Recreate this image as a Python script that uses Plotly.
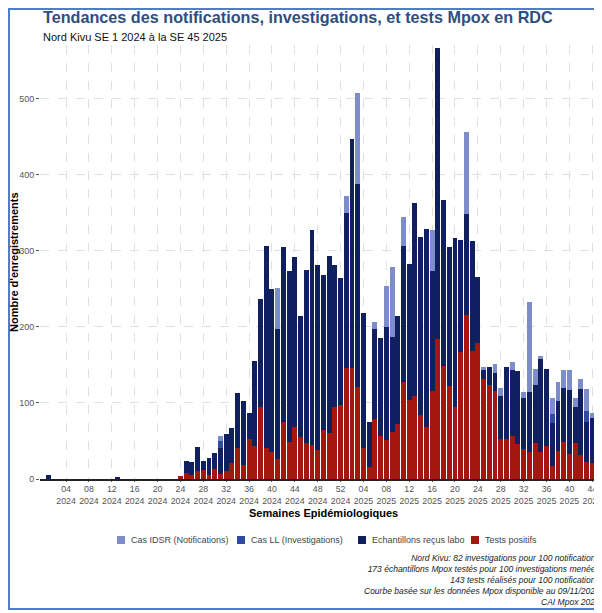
import plotly.graph_objects as go

# Semaines epidemiologiques : SE 1 2024 -> SE 45 2025 (97 semaines)
annees = [2024] * 52 + [2025] * 45
semaines = list(range(1, 53)) + list(range(1, 46))

cas_idsr = [
    2, 0, 0, 0, 0, 0, 0, 0, 0, 0, 0, 0, 1, 0, 0, 0, 0, 0, 0, 0, 0, 0, 0, 3, 18, 17,
    30, 18, 20, 25, 57, 44, 50, 85, 78, 66, 118, 180, 230, 190, 251, 235, 210, 220,
    165, 208, 250, 215, 205, 222, 215, 200,
    372, 340, 508, 165, 58, 206, 142, 254, 279, 165, 345, 215, 288, 240, 250, 328,
    430, 286, 232, 240, 238, 456, 238, 202, 147, 112, 151, 120, 112, 154, 108, 114,
    233, 145, 162, 110, 106, 127, 143, 144, 106, 131, 118, 87, 106,
]
cas_ll = [
    1, 0, 0, 0, 0, 0, 0, 0, 0, 0, 0, 0, 1, 0, 0, 0, 0, 0, 0, 0, 0, 0, 0, 2, 14, 13,
    25, 15, 16, 20, 50, 36, 40, 70, 66, 52, 95, 150, 190, 158, 180, 195, 175, 182,
    138, 172, 205, 178, 168, 185, 178, 168,
    300, 280, 370, 140, 48, 170, 118, 195, 180, 138, 280, 180, 240, 200, 208, 260,
    350, 230, 192, 200, 197, 330, 198, 168, 120, 95, 125, 95, 95, 125, 90, 92,
    100, 110, 135, 92, 85, 95, 110, 105, 85, 105, 90, 72, 80,
]
echantillons = [
    5, 0, 0, 0, 0, 0, 0, 0, 0, 0, 0, 0, 2, 0, 0, 0, 0, 0, 0, 0, 0, 0, 0, 4, 24, 23,
    42, 24, 28, 34, 41, 59, 67, 113, 103, 87, 155, 237, 306, 250, 197, 305, 274, 292,
    214, 275, 327, 282, 268, 293, 282, 264,
    350, 447, 388, 219, 75, 198, 186, 200, 187, 214, 306, 283, 363, 318, 329, 274,
    567, 367, 305, 317, 314, 349, 313, 266, 143, 147, 140, 109, 147, 144, 142, 106,
    115, 124, 158, 145, 74, 103, 120, 117, 95, 119, 75, 80, 68,
]
tests_positifs = [
    0, 0, 0, 0, 0, 0, 0, 0, 0, 0, 0, 0, 0, 0, 0, 0, 0, 0, 0, 0, 0, 0, 0, 4, 8, 5,
    10, 12, 5, 13, 6, 11, 21, 41, 18, 52, 43, 95, 41, 35, 26, 75, 49, 69,
    55, 48, 45, 38, 64, 60, 95, 97,
    146, 146, 121, 41, 16, 79, 56, 51, 62, 72, 127, 104, 109, 84, 69, 116,
    184, 149, 122, 95, 167, 216, 169, 179, 131, 124, 116, 53, 52, 57, 46, 39,
    36, 47, 35, 43, 17, 37, 49, 33, 48, 31, 22, 21, 19,
]

idx = list(range(len(semaines)))
tick_idx = [i for i in idx if semaines[i] % 4 == 0]
tick_txt = [f"{semaines[i]:02d}<br>{annees[i]}" for i in tick_idx]

series = [
    ("Cas IDSR (Notifications)", cas_idsr, "#7d8dca"),
    ("Cas LL (Investigations)", cas_ll, "#2f4c9e"),
    ("Echantillons reçus labo", echantillons, "#0f1f5f"),
    ("Tests positifs", tests_positifs, "#a3170e"),
]

FONT = "Liberation Sans, Arial, sans-serif"

# page pixel (reference) -> paper coords ; plot area spans x 40..602, y 45..479
def px(x):
    return (x - 40) / 562


def py(y):
    return (479 - y) / 434


fig = go.Figure()
for name, vals, col in series:
    fig.add_trace(go.Bar(
        x=idx, y=vals, name=name, width=0.86,
        marker=dict(color=col, line=dict(width=0)),
        showlegend=False,
    ))

# body of the page has an 8px margin, so the figure is 8px smaller
fig.update_layout(
    width=594, height=605,
    barmode="overlay",
    plot_bgcolor="white", paper_bgcolor="white",
    margin=dict(l=32, r=0, t=37, b=134),
    font=dict(family=FONT, color="#333333"),
    showlegend=False,
    bargap=0,
)

fig.update_xaxes(
    range=[-1.55, 96.7], automargin=False,
    tickmode="array", tickvals=tick_idx, ticktext=tick_txt, tickangle=0,
    ticklabeloverflow="allow",
    tickfont=dict(size=8.8, color="#555555"),
    showgrid=True, gridcolor="#e0e0e0", griddash="dash", gridwidth=1,
    showline=True, linecolor="#222222", linewidth=1.5,
    ticks="outside", ticklen=1, tickcolor="#555555",
    zeroline=False,
)
fig.update_yaxes(
    range=[0, 571], automargin=False,
    tickvals=[0, 100, 200, 300, 400, 500],
    tickfont=dict(size=9, color="#555555"),
    showgrid=True, gridcolor="#e0e0e0", griddash="dash", gridwidth=1,
    ticks="outside", ticklen=3, tickcolor="#555555",
    zeroline=False, showline=False,
)

# Titres des axes
fig.add_annotation(
    text="<b>Semaines Epidémiologiques</b>", xref="paper", yref="paper",
    x=px(323), y=py(513), xanchor="center", yanchor="middle", showarrow=False,
    font=dict(size=11, color="black", family=FONT),
)
fig.add_annotation(
    text="<b>Nombre d'enregistrements</b>", xref="paper", yref="paper",
    x=px(14), y=py(262), xanchor="center", yanchor="middle", showarrow=False,
    textangle=-90, font=dict(size=11, color="black", family=FONT),
)

# Titre et sous-titre
fig.add_annotation(
    text="<b>Tendances des notifications, investigations, et tests Mpox en RDC</b>",
    xref="paper", yref="paper", x=px(41), y=py(17), xanchor="left", yanchor="middle",
    showarrow=False, font=dict(size=16.2, color="#2f4f7a", family=FONT),
)
fig.add_annotation(
    text="Nord Kivu SE 1 2024 à la SE 45 2025",
    xref="paper", yref="paper", x=px(41), y=py(37), xanchor="left", yanchor="middle",
    showarrow=False, font=dict(size=11, color="#111111", family=FONT),
)

# Legende (carres + textes)
legend_x = [117, 237, 358, 471]
for (name, _, col), lx in zip(series, legend_x):
    fig.add_shape(
        type="rect", xref="paper", yref="paper",
        x0=px(lx), x1=px(lx + 8), y0=py(544), y1=py(536),
        line=dict(width=0), fillcolor=col,
    )
    fig.add_annotation(
        text=name, xref="paper", yref="paper", x=px(lx + 12), y=py(540),
        xanchor="left", yanchor="middle", showarrow=False,
        font=dict(size=9, color="#444444", family=FONT),
    )

# Notes de bas de page
notes = [
    "Nord Kivu: 82 investigations pour 100 notifications",
    "173 échantillons Mpox testés pour 100 investigations menées",
    "143 tests réalisés pour 100 notifications",
    "Courbe basée sur les données Mpox disponible au 09/11/2025",
    "CAI Mpox 2025",
]
fig.add_annotation(
    text="<i>" + "<br>".join(notes) + "</i>",
    xref="paper", yref="paper", x=1.0, y=py(551),
    xanchor="right", yanchor="top", align="right", showarrow=False,
    font=dict(size=8.5, color="#222222", family=FONT),
)

# Cadre bleu
fig.add_shape(
    type="rect", xref="paper", yref="paper",
    x0=px(9), x1=1.05, y0=py(609), y1=py(9),
    line=dict(color="#4f7ccb", width=2), fillcolor="rgba(0,0,0,0)", layer="above",
)

fig.write_html("out.html")
